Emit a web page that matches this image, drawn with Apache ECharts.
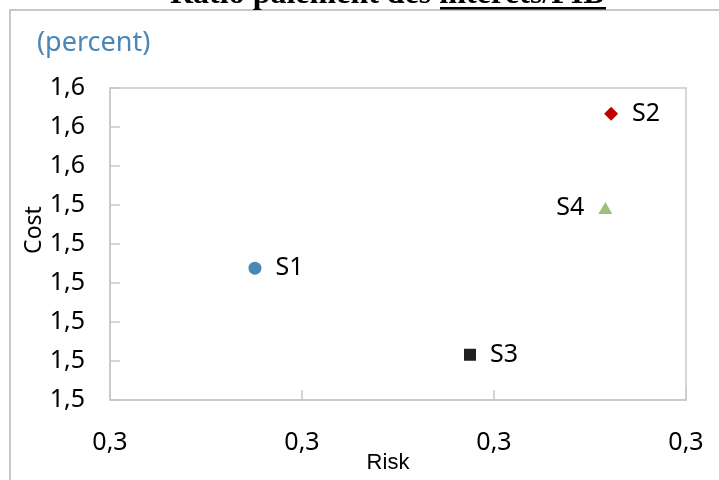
<!DOCTYPE html>
<html>
<head>
<meta charset="utf-8">
<script src="https://cdn.jsdelivr.net/npm/echarts@6/dist/echarts.min.js"></script>
<style>
  html, body { margin: 0; padding: 0; background: #fff; }
  #chart { width: 719px; height: 480px; }
</style>
</head>
<body>
<div id="chart"></div>
<script>
// Scenario labels and their (risk, cost) positions
const scenarios = ['S1', 'S2', 'S3', 'S4'];
const riskValues = [0.2951, 0.3322, 0.3175, 0.3316];
const costValues = [1.5369, 1.5567, 1.5258, 1.5446];

// Marker look for each scenario
const markerShapes = ['circle', 'diamond', 'rect', 'triangle'];
const markerColors = ['#4a89b3', '#c00000', '#231f20', '#9bbf7c'];
const markerSizes = [13, 14, 12, [14, 12]];
const labelSides = ['right', 'right', 'right', 'left'];

// Axis tick labels (rounded to one decimal, comma separator)
const xTickLabels = ['0,3', '0,3', '0,3', '0,3'];
const yTickLabels = ['1,5', '1,5', '1,5', '1,5', '1,5', '1,5', '1,6', '1,6', '1,6'];
const xMin = 0.28, xMax = 0.34, xStep = 0.02;
const yMin = 1.52, yMax = 1.56, yStep = 0.005;

const chart = echarts.init(document.getElementById('chart'), null, { renderer: 'canvas' });

const font = '"Noto Sans", "Open Sans", sans-serif';

const series = scenarios.map((name, i) => ({
  name: name,
  type: 'scatter',
  data: [[riskValues[i], costValues[i]]],
  symbol: markerShapes[i],
  symbolSize: markerSizes[i],
  itemStyle: { color: markerColors[i], opacity: 1 },
  label: {
    show: true,
    position: labelSides[i],
    distance: 14,
    formatter: name,
    color: '#000',
    fontSize: 25,
    fontFamily: font
  },
  silent: true
}));

chart.setOption({
  animation: false,
  backgroundColor: '#fff',
  grid: {
    left: 110, right: 33, top: 88, bottom: 80,
    outerBoundsMode: 'none',
    containLabel: false,
    show: true, borderColor: '#c8c8c8', borderWidth: 1.5
  },
  xAxis: {
    type: 'value',
    min: xMin, max: xMax, interval: xStep,
    name: 'Risk',
    nameLocation: 'middle',
    nameGap: 52,
    nameMoveOverlap: false,
    nameTextStyle: { fontFamily: '"Liberation Sans", Arial, sans-serif', fontSize: 22, color: '#000', padding: [0, 20, 0, 0] },
    axisLine: { lineStyle: { color: '#c8c8c8', width: 1.5 } },
    axisTick: { show: true, inside: true, length: 10, lineStyle: { color: '#c8c8c8', width: 1.5 } },
    splitLine: { show: false },
    axisLabel: {
      margin: 30,
      fontSize: 25,
      fontFamily: font,
      color: '#000',
      formatter: v => xTickLabels[Math.round((v - xMin) / xStep)]
    }
  },
  yAxis: {
    type: 'value',
    min: yMin, max: yMax, interval: yStep,
    name: 'Cost',
    nameLocation: 'middle',
    nameGap: 64,
    nameMoveOverlap: false,
    nameRotate: 90,
    nameTextStyle: { fontFamily: font, fontSize: 23, color: '#000', padding: [0, 0, 0, 28] },
    axisLine: { show: true, lineStyle: { color: '#c8c8c8', width: 1.5 } },
    axisTick: { show: true, inside: true, length: 10, lineStyle: { color: '#c8c8c8', width: 1.5 } },
    splitLine: { show: false },
    axisLabel: {
      margin: 25,
      fontSize: 25,
      fontFamily: font,
      color: '#000',
      formatter: v => yTickLabels[Math.round((v - yMin) / yStep)]
    }
  },
  graphic: [
    // outer frame of the chart area
    { type: 'rect', shape: { x: 10, y: 10, width: 900, height: 700 },
      style: { fill: null, stroke: '#c8c8c8', lineWidth: 2 }, silent: true },
    // heading, partly above the frame
    { type: 'text', left: 170, top: -21,
      style: { text: 'Ratio paiement des intérêts/PIB', font: 'bold 32px "Liberation Serif", "Times New Roman", serif', fill: '#000' }, silent: true },
    { type: 'rect', shape: { x: 440, y: 7, width: 166, height: 2.5 },
      style: { fill: '#000' }, silent: true },
    // unit caption
    { type: 'text', left: 37, top: 30,
      style: { text: '(percent)', font: '27px "Noto Sans", "Open Sans", sans-serif', fill: '#4a86b6' }, silent: true }
  ],
  series: series
});
</script>
</body>
</html>
